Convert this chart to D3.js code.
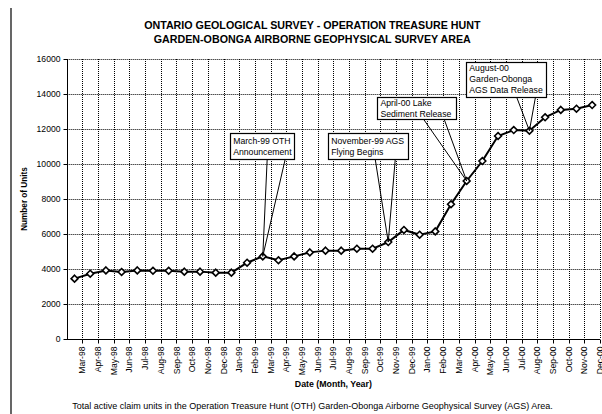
<!DOCTYPE html>
<html>
<head>
<meta charset="utf-8">
<script src="https://cdn.jsdelivr.net/npm/d3@7"></script>
<style>
    body { margin: 0; background: #fff; }
    svg { display: block; font-family: Arial, "Liberation Sans", sans-serif; }
</style>
</head>
<body>
<div id="visualization"></div>
<script>
// chart data
var months = ['Mar-98', 'Apr-98', 'May-98', 'Jun-98', 'Jul-98', 'Aug-98', 'Sep-98', 'Oct-98', 'Nov-98', 'Dec-98',
    'Jan-99', 'Feb-99', 'Mar-99', 'Apr-99', 'May-99', 'Jun-99', 'Jul-99', 'Aug-99', 'Sep-99', 'Oct-99', 'Nov-99', 'Dec-99',
    'Jan-00', 'Feb-00', 'Mar-00', 'Apr-00', 'May-00', 'Jun-00', 'Jul-00', 'Aug-00', 'Sep-00', 'Oct-00', 'Nov-00', 'Dec-00'];

var units = [3450, 3730, 3920, 3830, 3920, 3900, 3900, 3850, 3850, 3790,
    3790, 4360, 4720, 4500, 4720, 4950, 5050, 5050, 5160, 5160, 5540, 6230,
    5960, 6150, 7700, 9030, 10170, 11600, 11940, 11900, 12670, 13090, 13160, 13370];

var yTicks = [0, 2000, 4000, 6000, 8000, 10000, 12000, 14000, 16000];

var noteText = [
    ['March-99 OTH', 'Announcement'],
    ['November-99 AGS', 'Flying Begins'],
    ['April-00 Lake', 'Sediment Release'],
    ['August-00', 'Garden-Obonga', 'AGS Data Release']
];
var notePoint = [12, 20, 25, 29];

var titleLines = ['ONTARIO GEOLOGICAL SURVEY - OPERATION TREASURE HUNT', 'GARDEN-OBONGA AIRBORNE GEOPHYSICAL SURVEY AREA'];
var footer = 'Total active claim units in the Operation Treasure Hunt (OTH) Garden-Obonga Airborne Geophysical Survey (AGS) Area.';

// layout
var width = 602,
    height = 414,
    plot = { left: 66.7, right: 600, top: 59, bottom: 339 };

// callout boxes, placed relative to the point they refer to
var noteBox = [
    { dx: -32.6, dy: -123, w: 64, h: 26, b0: 4.4, b1: 22.4 },
    { dx: -60, dy: -108.7, w: 80, h: 26, b0: -13, b1: 7 },
    { dx: -89.3, dy: -83.7, w: 78.7, h: 21.7, b0: -43.3, b1: -22.6 },
    { dx: -63.1, dy: -69.1, w: 80, h: 34.6, b0: -13.1, b1: 6.2 }
];

var x = d3.scaleBand()
    .domain(months)
    .range([plot.left, plot.right]);

var y = d3.scaleLinear()
    .domain([0, 16000])
    .range([plot.bottom, plot.top]);

var bw = x.bandwidth();
var cx = function(i) { return x(months[i]) + bw / 2; };
var cy = function(i) { return y(units[i]); };

var svg = d3.select('#visualization')
    .append('svg')
    .attr('width', width)
    .attr('height', height);

// page border on the left
svg.append('line')
    .attr('x1', 11).attr('x2', 11)
    .attr('y1', 8).attr('y2', height)
    .attr('stroke', '#000')
    .attr('stroke-width', 1.2);

// title
svg.append('g')
    .selectAll('text')
    .data(titleLines)
    .join('text')
    .attr('x', 312.3)
    .attr('y', (d, i) => 29.3 + i * 13.4)
    .attr('text-anchor', 'middle')
    .style('font-weight', '700')
    .style('font-size', '10.7px')
    .text(d => d);

// gridlines
svg.append('g')
    .selectAll('line')
    .data(yTicks.slice(1))
    .join('line')
    .attr('x1', plot.left)
    .attr('x2', plot.right)
    .attr('y1', d => Math.round(y(d)) + 0.5)
    .attr('y2', d => Math.round(y(d)) + 0.5)
    .attr('stroke', '#000')
    .attr('stroke-dasharray', '1,1');

svg.append('g')
    .selectAll('line')
    .data(months)
    .join('line')
    .attr('x1', d => Math.round(x(d) + bw) + 0.5)
    .attr('x2', d => Math.round(x(d) + bw) + 0.5)
    .attr('y1', plot.top)
    .attr('y2', plot.bottom)
    .attr('stroke', '#000')
    .attr('stroke-dasharray', '1,1');

// y axis
var yAxis = svg.append('g')
    .attr('transform', 'translate(' + (Math.round(plot.left) + 0.5) + ',0)')
    .call(d3.axisLeft(y).tickValues(yTicks).tickSize(4).tickPadding(3).tickFormat(d3.format('d')));

// x axis, labels sit on the band edges
var xAxis = svg.append('g')
    .attr('transform', 'translate(0,' + (Math.round(plot.bottom) + 0.5) + ')');

xAxis.append('line')
    .attr('x1', plot.left)
    .attr('x2', plot.right)
    .attr('stroke', '#000');

xAxis.selectAll('.tick')
    .data(months)
    .join('line')
    .attr('class', 'tick')
    .attr('x1', d => Math.round(x(d) + bw) + 0.5)
    .attr('x2', d => Math.round(x(d) + bw) + 0.5)
    .attr('y1', 0)
    .attr('y2', 4)
    .attr('stroke', '#000');

xAxis.selectAll('text')
    .data(months)
    .join('text')
    .attr('transform', d => 'translate(' + (x(d) + bw) + ',7) rotate(-90)')
    .attr('dy', '0.35em')
    .attr('text-anchor', 'end')
    .style('font-size', '8.6px')
    .text(d => d);

yAxis.select('.domain').attr('d', 'M0,' + plot.top + 'V' + plot.bottom);
yAxis.selectAll('text').style('font-size', '8.6px').style('font-family', 'Arial, "Liberation Sans", sans-serif');

// axis titles
svg.append('text')
    .attr('transform', 'translate(27,' + (plot.top + plot.bottom) / 2 + ') rotate(-90)')
    .attr('text-anchor', 'middle')
    .style('font-weight', '700')
    .style('font-size', '8.2px')
    .text('Number of Units');

svg.append('text')
    .attr('x', (plot.left + plot.right) / 2)
    .attr('y', 387.3)
    .attr('text-anchor', 'middle')
    .style('font-weight', '700')
    .style('font-size', '8.8px')
    .text('Date (Month, Year)');

svg.append('text')
    .attr('x', 312.5)
    .attr('y', 409)
    .attr('text-anchor', 'middle')
    .style('font-size', '9px')
    .text(footer);

// series
var line = d3.line()
    .x((d, i) => cx(i))
    .y(d => y(d));

svg.append('path')
    .datum(units)
    .attr('d', line)
    .attr('fill', 'none')
    .attr('stroke', '#000')
    .attr('stroke-width', 2);

svg.append('g')
    .selectAll('path')
    .data(units)
    .join('path')
    .attr('transform', (d, i) => 'translate(' + cx(i) + ',' + y(d) + ')')
    .attr('d', d3.symbol(d3.symbolDiamond2, 30))
    .attr('fill', '#fff')
    .attr('stroke', '#000')
    .attr('stroke-width', 1.6);

// callouts
var note = svg.append('g')
    .selectAll('g')
    .data(noteText)
    .join('g');

note.each(function(lines, k) {
    var g = d3.select(this),
        i = notePoint[k],
        b = noteBox[k],
        px = cx(i),
        py = cy(i),
        left = px + b.dx,
        top = py + b.dy,
        lh = 11.3;

    g.append('path')
        .attr('d', 'M' + (px + b.b0) + ',' + (top + b.h) + 'L' + px + ',' + py + 'L' + (px + b.b1) + ',' + (top + b.h))
        .attr('fill', 'none')
        .attr('stroke', '#000')
        .attr('stroke-width', 1);

    g.append('rect')
        .attr('x', Math.round(left) + 0.5)
        .attr('y', Math.round(top) + 0.5)
        .attr('width', Math.round(b.w))
        .attr('height', Math.round(b.h))
        .attr('fill', '#fff')
        .attr('stroke', '#000')
        .attr('stroke-width', 1.2);

    g.selectAll('text')
        .data(lines)
        .join('text')
        .attr('x', left + 3)
        .attr('y', (d, j) => top + b.h / 2 + (j - (lines.length - 1) / 2) * lh + 3.2)
        .style('font-size', '8.7px')
        .text(d => d);
});
</script>
</body>
</html>
